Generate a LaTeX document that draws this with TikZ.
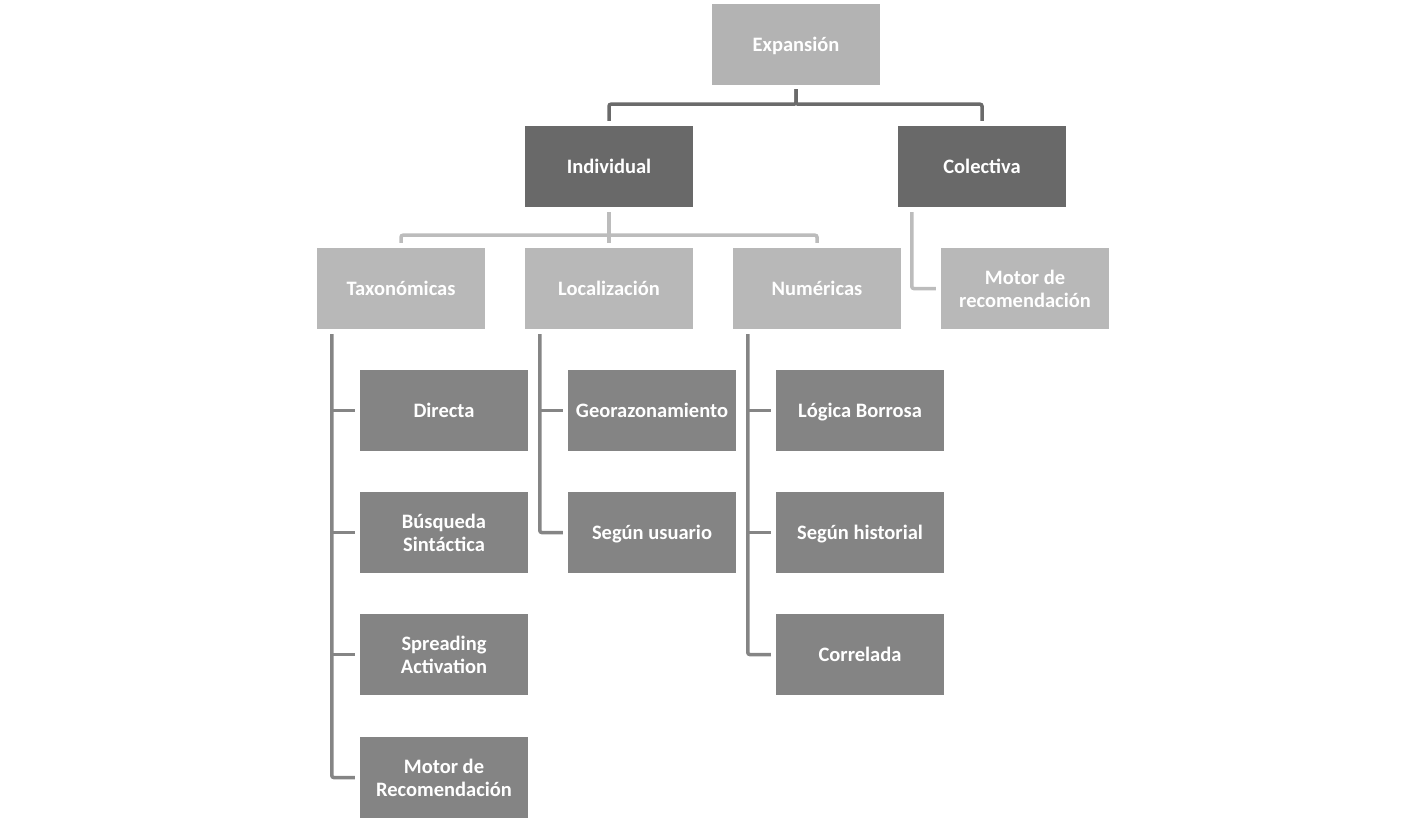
\documentclass[tikz,border=0pt]{standalone}
\usepackage{fontspec}
\setmainfont{Carlito}
\definecolor{cLight}{HTML}{B3B3B3}
\definecolor{cMid}{HTML}{B8B8B8}
\definecolor{cDark}{HTML}{696969}
\definecolor{cLeaf}{HTML}{848484}
\definecolor{lTop}{HTML}{6A6A6A}
\definecolor{lLight}{HTML}{BCBCBC}
\definecolor{lLeaf}{HTML}{858585}
\tikzset{
  box/.style={draw=none, minimum width=168pt, minimum height=81pt, inner sep=2pt,
    text=white, font=\fontsize{20.5}{23}\selectfont\bfseries, align=center},
  single/.style={text height=13pt, text depth=0pt},
  rootbox/.style={box, fill=cLight},
  lvtwo/.style={box, fill=cDark},
  lvthree/.style={box, fill=cMid},
  leafbox/.style={box, fill=cLeaf},
  conn/.style={line width=3.5pt, rounded corners=2pt},
  topline/.style={conn, draw=lTop},
  lightline/.style={conn, draw=lLight},
  leafline/.style={conn, draw=lLeaf},
}
\begin{document}
\begin{tikzpicture}[x=1pt,y=-1pt]
\useasboundingbox (0,0) rectangle (1426,823);
\node[rootbox,single] (exp) at (796,44.5) {Expansión};
\node[lvtwo,single] (ind) at (609,166.5) {Individual};
\node[lvtwo,single] (col) at (982,166.5) {Colectiva};
\node[lvthree,single] (tax) at (401,288.5) {Taxonómicas};
\node[lvthree,single] (loc) at (609,288.5) {Localización};
\node[lvthree,single] (num) at (817,288.5) {Numéricas};
\node[lvthree] (mot) at (1025,288.5) {Motor de\\recomendación};
\node[leafbox,single] (dir) at (444,410.5) {Directa};
\node[leafbox] (bus) at (444,532.5) {Búsqueda\\Sintáctica};
\node[leafbox] (spr) at (444,654.5) {Spreading\\Activation};
\node[leafbox] (mr) at (444,777.5) {Motor de\\Recomendación};
\node[leafbox,single] (geo) at (652,410.5) {Georazonamiento};
\node[leafbox,single] (seg) at (652,532.5) {Según usuario};
\node[leafbox,single] (log) at (860,410.5) {Lógica Borrosa};
\node[leafbox,single] (his) at (860,532.5) {Según historial};
\node[leafbox,single] (cor) at (860,654.5) {Correlada};
% top connectors
\draw[topline] ([yshift=-4pt]exp.south) -- ++(0,15) -| ([yshift=5pt]ind.north);
\draw[topline] ([yshift=-4pt]exp.south) -- ++(0,15) -| ([yshift=5pt]col.north);
% individual connectors
\draw[lightline] ([yshift=-5pt]ind.south) -- ([yshift=5pt]loc.north);
\draw[lightline] ([yshift=-5pt]ind.south) -- ++(0,23) -| ([yshift=5pt]tax.north);
\draw[lightline] ([yshift=-5pt]ind.south) -- ++(0,23) -| ([yshift=5pt]num.north);
% colectiva
\draw[lightline] ([xshift=14pt,yshift=-5pt]col.south west) |- ([xshift=-5pt]mot.west);
% taxonomicas
\draw[leafline] ([xshift=15pt,yshift=-5pt]tax.south west) |- ([xshift=-5pt]mr.west);
\foreach \n in {dir,bus,spr}{
  \draw[leafline] ([xshift=15pt]tax.south west |- \n.west) -- ([xshift=-5pt]\n.west);
}
% localizacion
\draw[leafline] ([xshift=15pt,yshift=-5pt]loc.south west) |- ([xshift=-5pt]seg.west);
\draw[leafline] ([xshift=15pt]loc.south west |- geo.west) -- ([xshift=-5pt]geo.west);
% numericas
\draw[leafline] ([xshift=15pt,yshift=-5pt]num.south west) |- ([xshift=-5pt]cor.west);
\foreach \n in {log,his}{
  \draw[leafline] ([xshift=15pt]num.south west |- \n.west) -- ([xshift=-5pt]\n.west);
}
\end{tikzpicture}
\end{document}
